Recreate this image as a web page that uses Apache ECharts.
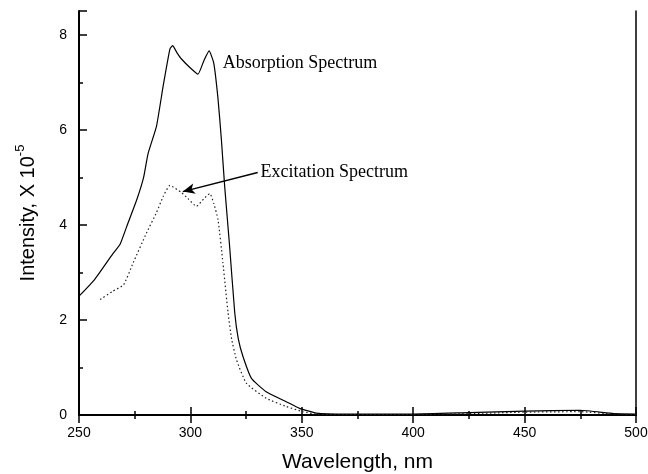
<!DOCTYPE html>
<html>
<head>
<meta charset="utf-8">
<script src="https://cdn.jsdelivr.net/npm/echarts@6/dist/echarts.min.js"></script>
<style>
  html, body { margin: 0; padding: 0; background: #fff; }
  #chart { width: 648px; height: 474px; }
</style>
</head>
<body>
<div id="chart"></div>
<script>
// Absorption spectrum (solid line): wavelength (nm) and intensity (x 10^-5)
const absWavelength = [250, 257, 265, 268.5, 272, 276, 279, 281, 284.8, 287.8, 290.8, 292, 294, 296, 300, 303.4, 306, 308.4, 310.5, 312.4, 313.9, 315.4, 317.6, 319.9, 321.5, 323.6, 327.4, 334, 343, 349, 356.5, 370, 400, 425, 450, 475, 490, 500];
const absIntensity  = [2.50, 2.85, 3.38, 3.60, 4.04, 4.54, 5.00, 5.50, 6.08, 6.93, 7.70, 7.77, 7.62, 7.49, 7.30, 7.17, 7.45, 7.66, 7.40, 6.65, 5.80, 4.80, 3.55, 2.15, 1.60, 1.23, 0.77, 0.49, 0.28, 0.14, 0.04, 0.02, 0.02, 0.05, 0.08, 0.10, 0.03, 0.02];

// Excitation spectrum (dotted line)
const excWavelength = [259.5, 265, 270, 274.3, 280.3, 284.8, 287.8, 290.8, 296, 299, 302.7, 306, 308.7, 310.5, 312.4, 314.6, 316.9, 318.5, 320.7, 325.1, 334.1, 343, 350.5, 358, 400, 425, 450, 475, 490, 500];
const excIntensity  = [2.43, 2.60, 2.74, 3.20, 3.83, 4.26, 4.60, 4.83, 4.68, 4.55, 4.39, 4.55, 4.66, 4.45, 4.11, 3.20, 2.15, 1.60, 1.16, 0.67, 0.35, 0.18, 0.07, 0.01, 0.01, 0.03, 0.06, 0.07, 0.02, 0.01];

// Axis ranges and ticks
const xRange = [250, 500];
const xStep = 50;
const yRange = [0, 8.5];
const yStep = 2;

// Annotation anchors (data coordinates)
const absLabelAt = [314.5, 7.4];
const excLabelAt = [331.5, 5.1];
const arrowFrom = [330.2, 5.1];
const arrowTo = [296.6, 4.70];

const zip = (xs, ys) => xs.map((x, i) => [x, ys[i]]);

const sansFont = '"Liberation Sans", Arial, sans-serif';
const serifFont = '"Liberation Serif", "Times New Roman", serif';

const chart = echarts.init(document.getElementById('chart'), null, { renderer: 'canvas' });

const tickStyle = { inside: true, length: 8, lineStyle: { color: '#000', width: 1.5 } };
const minorStyle = { show: true, splitNumber: 2, length: 4, lineStyle: { color: '#000', width: 1.5 } };

chart.setOption({
  animation: false,
  backgroundColor: '#fff',
  grid: { left: 79, right: 12, top: 11, bottom: 59, containLabel: false, outerBoundsMode: 'none' },
  xAxis: [
    {
      type: 'value', position: 'bottom',
      min: xRange[0], max: xRange[1], interval: xStep,
      name: 'Wavelength, nm', nameLocation: 'middle', nameGap: 37,
      nameTextStyle: { fontFamily: sansFont, fontSize: 21, color: '#000' },
      axisLine: { show: true, lineStyle: { color: '#000', width: 2 } },
      axisTick: tickStyle, minorTick: minorStyle,
      axisLabel: { fontFamily: sansFont, fontSize: 14, color: '#000', margin: 11 },
      splitLine: { show: false }
    },
    {
      type: 'value', position: 'top',
      min: xRange[0], max: xRange[1], interval: xStep,
      axisLine: { show: true, lineStyle: { color: '#000', width: 1.5 } },
      axisTick: tickStyle, minorTick: minorStyle,
      axisLabel: { show: false },
      splitLine: { show: false }
    }
  ],
  yAxis: [
    {
      type: 'value', position: 'left',
      min: yRange[0], max: yRange[1], interval: yStep,
      name: '{a|Intensity, X 10}{b|-5}', nameLocation: 'middle', nameGap: 37, nameRotate: 90,
      nameTextStyle: {
        fontFamily: sansFont, color: '#000',
        rich: {
          a: { fontFamily: sansFont, fontSize: 20, lineHeight: 28, color: '#000' },
          b: { fontFamily: sansFont, fontSize: 13, lineHeight: 28, verticalAlign: 'top', color: '#000' }
        }
      },
      axisLine: { show: true, lineStyle: { color: '#000', width: 2 } },
      axisTick: tickStyle, minorTick: minorStyle,
      axisLabel: { fontFamily: sansFont, fontSize: 14, color: '#000', margin: 12, showMaxLabel: false },
      splitLine: { show: false }
    },
    {
      type: 'value', position: 'right',
      min: yRange[0], max: yRange[1], interval: yStep,
      axisLine: { show: true, lineStyle: { color: '#000', width: 1.5 } },
      axisTick: { show: false },
      axisLabel: { show: false },
      splitLine: { show: false }
    }
  ],
  series: [
    {
      name: 'Absorption Spectrum',
      type: 'line',
      data: zip(absWavelength, absIntensity),
      smooth: 0.15,
      showSymbol: false,
      lineStyle: { color: '#000', width: 1.2 },
      markPoint: {
        symbol: 'circle', symbolSize: 0,
        label: { show: true, position: 'right', distance: 0, formatter: 'Absorption Spectrum', fontFamily: serifFont, fontSize: 18, color: '#000' },
        data: [{ coord: absLabelAt }]
      }
    },
    {
      name: 'Excitation Spectrum',
      type: 'line',
      data: zip(excWavelength, excIntensity),
      smooth: 0.15,
      showSymbol: false,
      lineStyle: { color: '#222', width: 1.2, type: [1.5, 2.5] },
      markPoint: {
        symbol: 'circle', symbolSize: 0,
        label: { show: true, position: 'right', distance: 0, formatter: 'Excitation Spectrum', fontFamily: serifFont, fontSize: 18, color: '#000' },
        data: [{ coord: excLabelAt }]
      },
      markLine: {
        silent: true,
        symbol: ['none', 'arrow'], symbolSize: [8, 12],
        label: { show: false },
        lineStyle: { color: '#000', width: 1.5, type: 'solid' },
        data: [[{ coord: arrowFrom }, { coord: arrowTo }]]
      }
    }
  ]
});
</script>
</body>
</html>
